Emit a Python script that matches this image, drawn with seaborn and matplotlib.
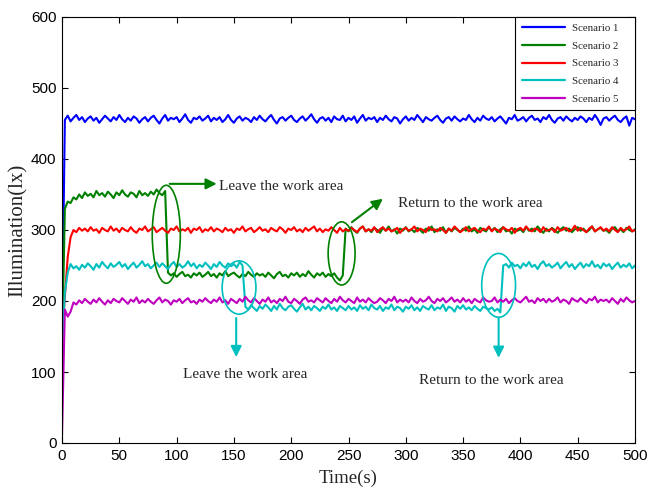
import numpy as np
import pandas as pd
import matplotlib
matplotlib.use("Agg")
import matplotlib.pyplot as plt
from matplotlib.patches import Ellipse
import seaborn as sns

# Sampling interval of the illumination log (s)
SAMPLE_STEP = 2.5
time_s = np.arange(0, 500 + SAMPLE_STEP / 2, SAMPLE_STEP)

scenario_names = ["Scenario 1", "Scenario 2", "Scenario 3", "Scenario 4", "Scenario 5"]

# Illuminance (lx) sampled every 2.5 s, 0 .. 500 s
scenario_1 = [
    155, 455, 461, 453, 458, 462, 455, 459, 452, 457,
    460, 454, 458, 451, 456, 461, 457, 453, 459, 455,
    462, 456, 452, 458, 454, 460, 457, 451, 456, 459,
    453, 458, 461, 455, 450, 457, 462, 454, 458, 456,
    459, 452, 457, 463, 455, 451, 458, 456, 460, 454,
    457, 461, 453, 458, 455, 459, 452, 456, 462, 455,
    451, 457, 460, 454, 458, 456, 452, 459, 455, 461,
    456, 453, 458, 462, 455, 450, 457, 459, 454, 458,
    461, 455, 452, 457, 460, 454, 458, 463, 456, 451,
    457, 459, 454, 458, 452, 460, 456, 455, 461, 453,
    458, 455, 460, 451, 457, 462, 454, 458, 456, 459,
    452, 458, 455, 461, 456, 453, 459, 457, 450, 456,
    460, 454, 458, 455, 462, 457, 452, 459, 456, 454,
    458, 461, 455, 451, 457, 459, 454, 460, 456, 453,
    457, 455, 462, 456, 452, 458, 454, 461, 457, 455,
    459, 453, 457, 460, 455, 450, 458, 456, 462, 454,
    456, 459, 453, 458, 461, 455, 457, 452, 459, 456,
    462, 455, 451, 457, 459, 454, 460, 456, 453, 458,
    455, 460, 457, 452, 458, 455, 462, 456, 448, 457,
    459, 454, 458, 461, 455, 452, 457, 460, 447, 458,
    456,
]

scenario_2 = [
    130, 330, 340, 338, 346, 343, 350, 345, 353, 348,
    351, 346, 355, 349, 352, 347, 354, 350, 345, 353,
    349, 356, 350, 347, 353, 351, 346, 355, 349, 352,
    348, 354, 350, 357, 352, 349, 355, 240, 236, 239,
    234, 238, 241, 235, 237, 233, 239, 236, 240, 234,
    237, 241, 235, 238, 233, 239, 236, 242, 235, 238,
    240, 236, 233, 238, 235, 241, 237, 234, 239, 236,
    238, 234, 240, 236, 232, 238, 241, 235, 237, 233,
    239, 236, 240, 234, 238, 235, 242, 237, 233, 239,
    236, 240, 234, 238, 235, 239, 233, 229, 236, 302,
    298, 304, 299, 296, 302, 305, 298, 301, 297, 303,
    300, 296, 303, 299, 305, 298, 301, 295, 302, 299,
    304, 298, 301, 297, 303, 300, 296, 302, 299, 305,
    297, 301, 299, 304, 296, 302, 298, 303, 300, 297,
    302, 299, 305, 298, 301, 296, 303, 300, 298, 304,
    299, 303, 297, 301, 304, 298, 300, 295, 302, 299,
    301, 297, 304, 299, 302, 298, 305, 300, 296, 302,
    298, 303, 300, 296, 301, 304, 299, 302, 297, 301,
    304, 299, 302, 297, 300, 305, 298, 301, 303, 299,
    300, 296, 302, 304, 298, 301, 297, 303, 300, 298,
    301,
]

scenario_3 = [
    150, 205, 262, 290, 300, 297, 303, 299, 302, 298,
    304, 299, 301, 296, 303, 300, 298, 305, 299, 302,
    297, 303, 300, 298, 304, 299, 296, 302, 300, 305,
    298, 301, 304, 297, 300, 303, 299, 296, 302, 300,
    305, 298, 301, 299, 303, 296, 302, 300, 304, 297,
    301, 299, 304, 298, 302, 300, 297, 303, 299, 301,
    296, 302, 300, 305, 298, 301, 303, 297, 300, 304,
    299, 301, 297, 303, 300, 298, 304, 301, 296, 302,
    300, 304, 298, 301, 297, 303, 299, 302, 305, 298,
    302, 297, 301, 299, 304, 300, 296, 303, 298, 301,
    299, 303, 300, 297, 302, 305, 298, 301, 299, 304,
    297, 301, 304, 299, 302, 298, 300, 303, 296, 301,
    303, 299, 301, 305, 298, 302, 300, 297, 304, 300,
    301, 298, 303, 300, 296, 302, 299, 305, 301, 297,
    300, 304, 298, 301, 303, 299, 297, 302, 300, 305,
    298, 302, 300, 297, 304, 301, 299, 303, 296, 301,
    303, 299, 305, 300, 298, 302, 301, 297, 304, 299,
    300, 302, 297, 304, 299, 301, 303, 298, 300, 306,
    299, 303, 300, 297, 302, 305, 298, 301, 304, 299,
    302, 298, 304, 300, 297, 303, 299, 301, 305, 298,
    300,
]

scenario_4 = [
    125, 212, 240, 252, 246, 249, 244, 251, 247, 253,
    249, 244, 252, 247, 255, 250, 246, 253, 248, 251,
    255, 248, 252, 245, 250, 254, 247, 251, 256, 249,
    252, 246, 250, 254, 248, 253, 249, 245, 251, 255,
    248, 252, 247, 250, 256, 249, 253, 246, 251, 248,
    254, 250, 245, 252, 248, 255, 250, 247, 253, 249,
    252, 247, 255, 250, 192, 188, 194, 190, 186, 193,
    189, 195, 191, 186, 193, 188, 196, 190, 187, 192,
    194, 189, 185, 191, 196, 188, 192, 187, 193, 190,
    186, 192, 189, 195, 188, 191, 186, 193, 190, 187,
    193, 188, 191, 186, 194, 189, 192, 187, 195, 190,
    188, 193, 186, 191, 189, 195, 187, 192, 190, 185,
    192, 189, 194, 187, 191, 186, 193, 190, 188, 194,
    187, 191, 189, 195, 186, 192, 190, 185, 193, 189,
    194, 188, 191, 187, 193, 189, 186, 192, 190, 188,
    191, 186, 189, 184, 250, 252, 247, 254, 249, 251,
    246, 253, 249, 255, 248, 251, 245, 252, 256, 249,
    252, 247, 250, 254, 246, 251, 255, 248, 252, 245,
    250, 254, 247, 252, 249, 256, 248, 251, 246, 253,
    249, 252, 245, 250, 254, 247, 251, 248, 253, 246,
    250,
]

scenario_5 = [
    10, 188, 178, 185, 198, 195, 201, 197, 203, 199,
    196, 202, 198, 204, 199, 195, 201, 197, 203, 200,
    198, 204, 200, 196, 202, 199, 205, 197, 201, 198,
    203, 199, 196, 201, 205, 198, 202, 200, 195, 201,
    199, 203, 197, 201, 204, 198, 200, 196, 202, 199,
    204, 200, 197, 202, 199, 205, 198, 201, 196, 203,
    200, 197, 203, 199, 206, 201, 198, 204, 200, 196,
    202, 199, 205, 198, 201, 197, 203, 200, 206, 199,
    197, 203, 200, 196, 202, 205, 199, 201, 198, 204,
    201, 198, 204, 200, 197, 203, 199, 206, 201, 198,
    203, 200, 197, 205, 199, 202, 198, 204, 200, 197,
    199, 204, 201, 197, 203, 200, 206, 198, 202, 199,
    202, 198, 205, 200, 197, 203, 199, 201, 206, 200,
    197, 203, 200, 204, 198, 201, 205, 199, 202, 198,
    204, 199, 202, 197, 203, 200, 198, 205, 201, 199,
    200, 205, 198, 202, 199, 203, 197, 201, 204, 200,
    198, 202, 206, 199, 201, 197, 204, 200, 203, 198,
    203, 199, 201, 205, 198, 202, 200, 196, 204, 201,
    199, 204, 200, 197, 203, 201, 206, 198, 202, 200,
    202, 198, 204, 200, 196, 203, 199, 205, 201, 198,
    200,
]

x_ticks = [0, 50, 100, 150, 200, 250, 300, 350, 400, 450, 500]
y_ticks = [0, 100, 200, 300, 400, 500, 600]

line_colors = ["#0000FF", "#008000", "#FF0000", "#00BFBF", "#BF00BF"]
GREEN = "#008000"
CYAN = "#00BFBF"

frames = []
for name, vals in zip(scenario_names,
                      [scenario_1, scenario_2, scenario_3, scenario_4, scenario_5]):
    frames.append(pd.DataFrame({"Time": time_s, "Illumination": vals, "Scenario": name}))
df = pd.concat(frames, ignore_index=True)

sns.set_theme(style="ticks")
plt.rcParams["font.family"] = ["Liberation Serif", "DejaVu Serif"]
plt.rcParams["axes.linewidth"] = 0.8
plt.rcParams["xtick.direction"] = "in"
plt.rcParams["ytick.direction"] = "in"

fig = plt.figure(figsize=(6.51, 4.92), dpi=100)
ax = fig.add_axes([62 / 651, 1 - 443 / 492, (635 - 62) / 651, (443 - 17) / 492])

sns.lineplot(data=df, x="Time", y="Illumination", hue="Scenario",
             palette=line_colors, estimator=None, linewidth=1.5, ax=ax)

ax.set_xlim(0, 500)
ax.set_ylim(0, 600)
ax.set_xticks(x_ticks)
ax.set_yticks(y_ticks)
ax.tick_params(axis="both", which="both", top=True, right=True, length=4,
               width=0.8, labelsize=11, pad=4, colors="black")
for lab in ax.get_xticklabels() + ax.get_yticklabels():
    lab.set_fontfamily(["Liberation Sans", "DejaVu Sans"])
for s in ax.spines.values():
    s.set_color("black")
    s.set_visible(True)

ax.set_xlabel("Time(s)", fontsize=13.5)
ax.set_ylabel("Illumination(lx)", fontsize=15)
ax.xaxis.set_label_coords(0.5, -0.063)
ax.yaxis.set_label_coords(-0.06, 0.5)

# Legend box pinned to the upper-right corner, stretched to its full width
handles, labels = ax.get_legend_handles_labels()
leg_w = 120 / 573
leg = ax.legend(handles, labels, loc="upper left",
                bbox_to_anchor=(1 - leg_w, 0, leg_w, 1.0), mode="expand",
                borderaxespad=0, fontsize=7.8, handlelength=4.0,
                handletextpad=0.7, labelspacing=0.75, borderpad=0.6,
                fancybox=False, framealpha=1, edgecolor="black")
leg.get_frame().set_linewidth(0.8)
for h in leg.get_lines():
    h.set_linewidth(1.6)

# Markers for the moments people leave and return
def mark(center, w, h, color):
    ax.add_patch(Ellipse(center, w, h, fill=False, edgecolor=color, lw=1.2, zorder=5))

def arrow(tail, head, color):
    ax.annotate("", xy=head, xytext=tail,
                arrowprops=dict(arrowstyle="-|>", color=color, lw=1.5,
                                mutation_scale=16, shrinkA=0, shrinkB=0),
                zorder=6)

mark((91, 294), 24.5, 138, GREEN)
mark((244, 267), 23.5, 89, GREEN)
mark((154.5, 219), 29.5, 75, CYAN)
mark((381, 222), 29.5, 90, CYAN)

arrow((94, 365), (135, 365), GREEN)
ax.text(137, 361, "Leave the work area", fontsize=11, va="center", ha="left")
arrow((253, 311), (280, 344), GREEN)
ax.text(293, 338, "Return to the work area", fontsize=11, va="center", ha="left")

arrow((152, 176), (152, 121), CYAN)
ax.text(160, 97, "Leave the work area", fontsize=11, va="center", ha="center")
arrow((381, 177), (381, 120), CYAN)
ax.text(375, 88, "Return to the work area", fontsize=11, va="center", ha="center")

fig.savefig("out.png", dpi=100)
